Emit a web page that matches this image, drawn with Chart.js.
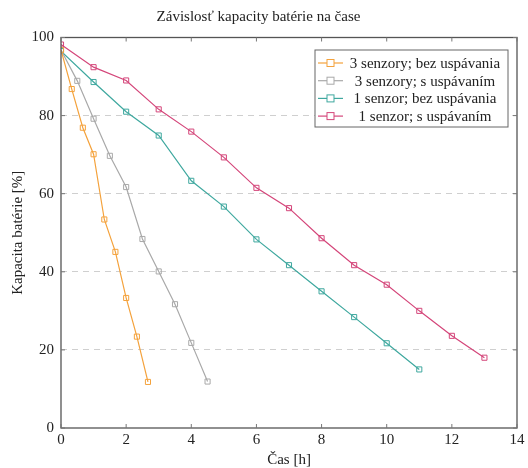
<!DOCTYPE html>
<html>
<head>
<meta charset="utf-8">
<script src="https://cdn.jsdelivr.net/npm/chart.js@4.4.0/dist/chart.umd.min.js"></script>
<style>
  html, body { margin: 0; padding: 0; background: #fff; }
  #wrap { width: 528px; height: 468px; }
</style>
</head>
<body>
<div id="wrap"><canvas id="mycanvas" width="528" height="468"></canvas></div>
<script>
// merania vybijania baterie
var labels = ['3 senzory; bez uspávania', '3 senzory; s uspávaním', '1 senzor; bez uspávania', '1 senzor; s uspávaním'];
var colors = ['#f4a23c', '#a9a9a9', '#3fa89f', '#d4467a'];

var cas3bez = [0, 0.33, 0.67, 1, 1.33, 1.67, 2, 2.33, 2.67];
var kap3bez = [96.8, 86.8, 76.9, 70.1, 53.4, 45.1, 33.3, 23.4, 11.8];

var cas3s = [0, 0.5, 1, 1.5, 2, 2.5, 3, 3.5, 4, 4.5];
var kap3s = [96.8, 88.9, 79.2, 69.7, 61.7, 48.4, 40.1, 31.7, 21.8, 11.9];

var cas1bez = [0, 1, 2, 3, 4, 5, 6, 7, 8, 9, 10, 11];
var kap1bez = [96.5, 88.6, 81.0, 74.9, 63.3, 56.7, 48.3, 41.7, 35.0, 28.4, 21.7, 15.0];

var cas1s = [0, 1, 2, 3, 4, 5, 6, 7, 8, 9, 10, 11, 12, 13];
var kap1s = [98.2, 92.4, 89.0, 81.6, 75.9, 69.3, 61.5, 56.3, 48.6, 41.7, 36.7, 30.0, 23.6, 18.0];

var xTicks = [0, 2, 4, 6, 8, 10, 12, 14];
var yTicks = [0, 20, 40, 60, 80, 100];

var serif = "'Liberation Serif', 'DejaVu Serif', serif";

function body(xs, ys) {
    var pts = [];
    for (var i in xs) {
        pts.push({x: xs[i], y: ys[i]});
    }
    return pts;
}

var series = [body(cas3bez, kap3bez), body(cas3s, kap3s), body(cas1bez, kap1bez), body(cas1s, kap1s)];
var datasets = [];
for (var i in series) {
    datasets.push({
        label: labels[i],
        data: series[i],
        borderColor: colors[i],
        backgroundColor: 'rgba(255,255,255,0)',
        borderWidth: 1.2,
        pointStyle: 'rect',
        pointRadius: 3.6,
        pointBorderWidth: 1,
        pointBorderColor: colors[i],
        pointBackgroundColor: 'rgba(255,255,255,0)',
        tension: 0
    });
}

// ramik okolo grafu + kratke ciarky dovnutra
var framePlugin = {
    id: 'frame',
    afterDraw: function(chart) {
        var ctx = chart.ctx;
        var a = chart.chartArea;
        var xs = chart.scales.x, ys = chart.scales.y;
        ctx.save();
        ctx.strokeStyle = '#555';
        ctx.lineWidth = 1.3;
        ctx.strokeRect(a.left, a.top, a.right - a.left, a.bottom - a.top);
        ctx.lineWidth = 1;
        ctx.strokeStyle = '#777';
        ctx.beginPath();
        for (var i in xTicks) {
            var px = xs.getPixelForValue(xTicks[i]);
            ctx.moveTo(px, a.bottom); ctx.lineTo(px, a.bottom - 4);
            ctx.moveTo(px, a.top); ctx.lineTo(px, a.top + 4);
        }
        for (var j in yTicks) {
            var py = ys.getPixelForValue(yTicks[j]);
            ctx.moveTo(a.left, py); ctx.lineTo(a.left + 4, py);
            ctx.moveTo(a.right, py); ctx.lineTo(a.right - 4, py);
        }
        ctx.stroke();
        ctx.restore();
    }
};

// legenda vpravo hore
var legendPlugin = {
    id: 'boxLegend',
    afterDraw: function(chart) {
        var ctx = chart.ctx;
        var bx = 315, by = 50, bw = 193, bh = 77;
        ctx.save();
        ctx.fillStyle = '#fff';
        ctx.fillRect(bx, by, bw, bh);
        ctx.strokeStyle = '#666';
        ctx.lineWidth = 1;
        ctx.strokeRect(bx, by, bw, bh);
        var sets = chart.data.datasets;
        for (var i = 0; i < sets.length; i++) {
            var ry = by + 13 + i * 17.7;
            ctx.strokeStyle = sets[i].borderColor;
            ctx.lineWidth = 1.2;
            ctx.beginPath();
            ctx.moveTo(318, ry); ctx.lineTo(343, ry);
            ctx.stroke();
            ctx.fillStyle = '#fff';
            ctx.fillRect(327, ry - 3.5, 7, 7);
            ctx.lineWidth = 1;
            ctx.strokeRect(327, ry - 3.5, 7, 7);
            ctx.fillStyle = '#222';
            ctx.font = '15px ' + serif;
            ctx.textAlign = 'center';
            ctx.textBaseline = 'middle';
            ctx.fillText(sets[i].label, 425, ry + 1);
        }
        ctx.restore();
    }
};

var ctx = document.getElementById('mycanvas');

var graf = new Chart(ctx, {
    type: 'line',
    data: { datasets: datasets },
    options: {
        responsive: false,
        animation: false,
        layout: { padding: { left: 0, right: 11, top: 0, bottom: 0 } },
        plugins: {
            legend: { display: false },
            tooltip: { enabled: false },
            title: {
                display: true,
                text: 'Závislosť kapacity batérie na čase',
                color: '#222',
                font: { family: serif, size: 15, weight: 'normal', lineHeight: 1.1 },
                padding: { top: 9, bottom: 12 }
            }
        },
        scales: {
            x: {
                type: 'linear',
                min: 0,
                max: 14,
                afterFit: function(scale) { scale.height = 40; },
                ticks: {
                    stepSize: 2,
                    color: '#222',
                    padding: 3,
                    font: { family: serif, size: 15 }
                },
                grid: { display: false, drawTicks: false },
                border: { display: false },
                title: {
                    display: true,
                    text: 'Čas [h]',
                    color: '#222',
                    font: { family: serif, size: 15, lineHeight: 1 },
                    padding: 0
                }
            },
            y: {
                min: 0,
                max: 100,
                afterFit: function(scale) { scale.width = 61; },
                ticks: {
                    stepSize: 20,
                    color: '#222',
                    padding: 7,
                    font: { family: serif, size: 15 }
                },
                grid: {
                    drawTicks: false,
                    color: function(c) {
                        return (c.tick.value === 0 || c.tick.value === 100) ? 'rgba(0,0,0,0)' : '#cfcfcf';
                    },
                    lineWidth: 1
                },
                border: { display: false, dash: [6, 5] },
                title: {
                    display: true,
                    text: 'Kapacita batérie [%]',
                    color: '#222',
                    font: { family: serif, size: 15 },
                    padding: { top: 9, bottom: 0 }
                }
            }
        }
    },
    plugins: [framePlugin, legendPlugin]
});
</script>
</body>
</html>
